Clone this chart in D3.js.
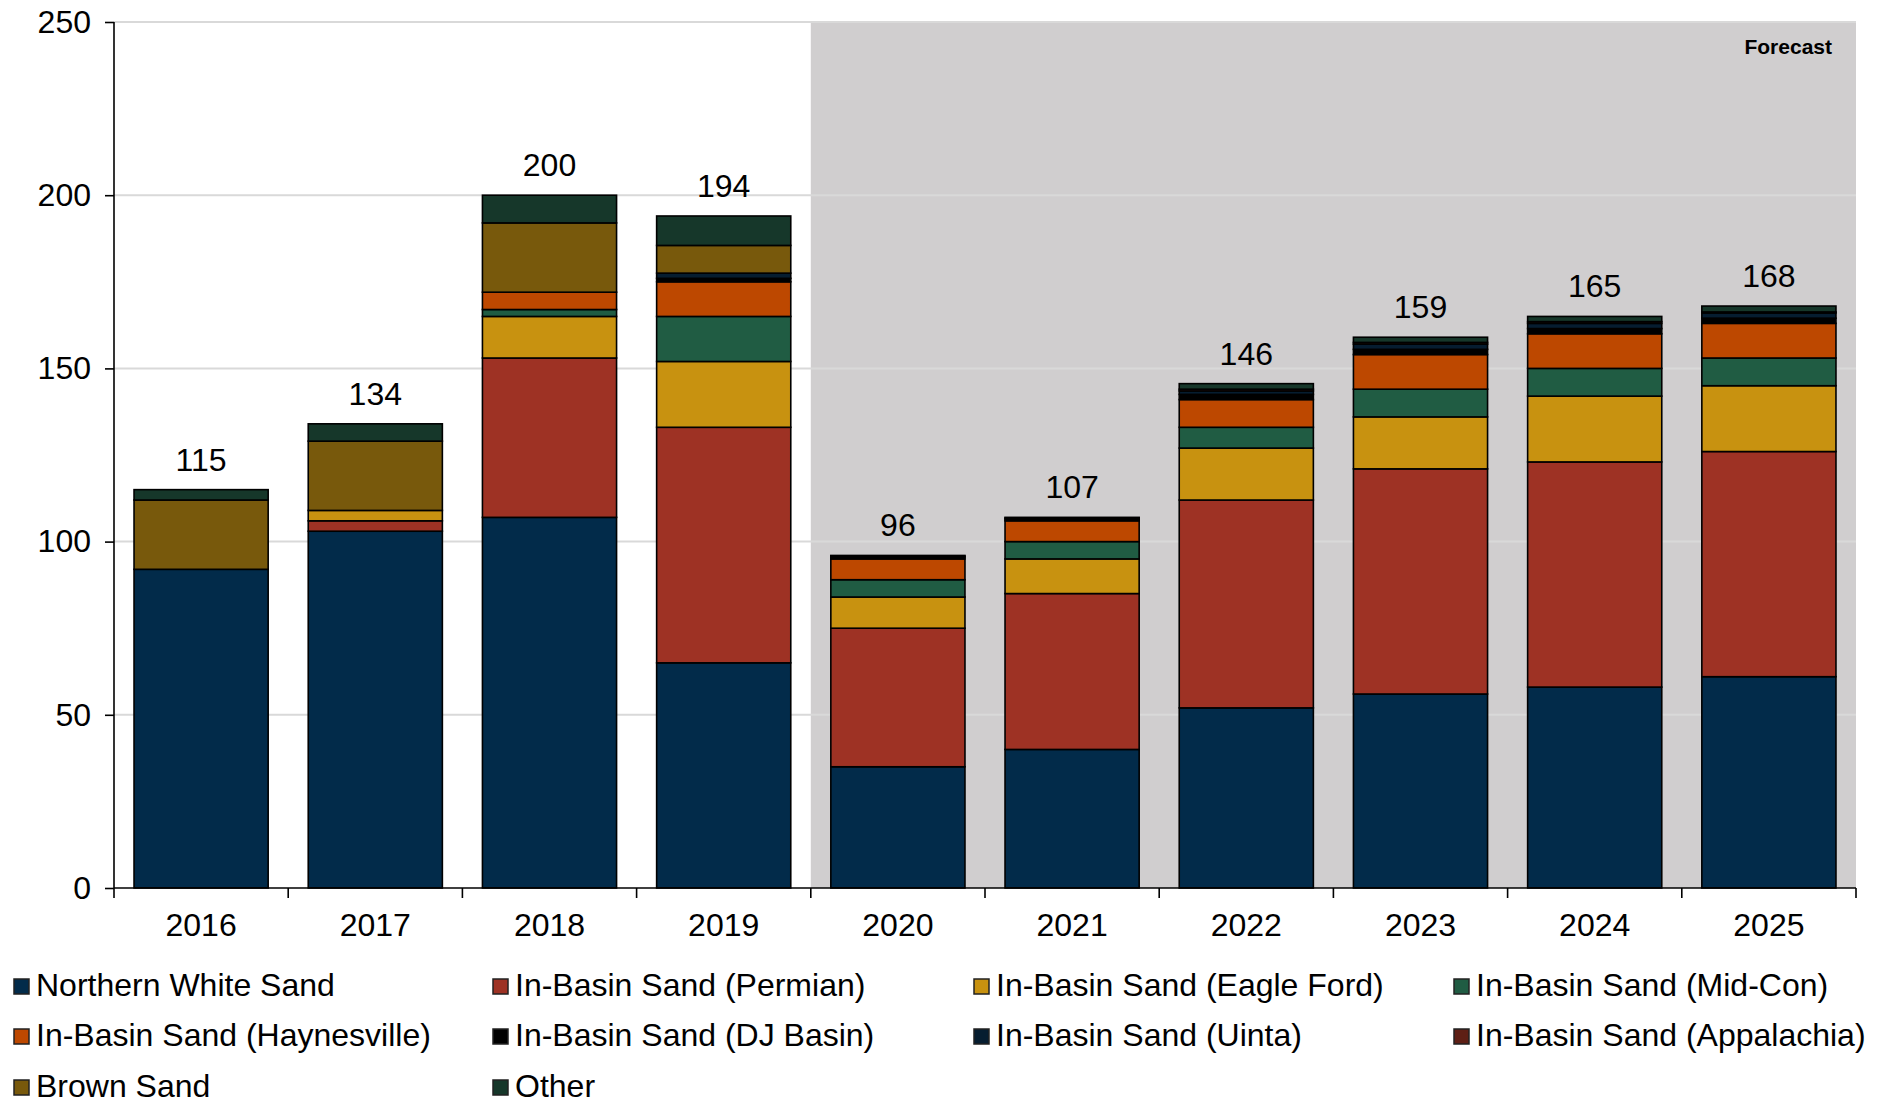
<!DOCTYPE html>
<html>
<head>
<meta charset="utf-8">
<title>Frac sand demand</title>
<script src="https://cdn.jsdelivr.net/npm/d3@7"></script>
<style>
  body { margin: 0; background: #fff; }
  text { font-family: "Liberation Sans", Arial, sans-serif; }
</style>
</head>
<body>
<script>
// data (million tons)
var years = ["2016","2017","2018","2019","2020","2021","2022","2023","2024","2025"];
var forecastFrom = "2020";

var seriesNames = ["Northern White Sand","In-Basin Sand (Permian)","In-Basin Sand (Eagle Ford)",
  "In-Basin Sand (Mid-Con)","In-Basin Sand (Haynesville)","In-Basin Sand (DJ Basin)",
  "In-Basin Sand (Uinta)","In-Basin Sand (Appalachia)","Brown Sand","Other"];
var seriesColors = ["#022b4a","#9e3224","#c89210","#205c43","#bd4800","#000000",
  "#061d30","#5e1f15","#78590c","#16372a"];

var northernWhite = [92, 103, 107, 65, 35, 40, 52, 56, 58, 61];
var permian       = [0, 3, 46, 68, 40, 45, 60, 65, 65, 65];
var eagleFord     = [0, 3, 12, 19, 9, 10, 15, 15, 19, 19];
var midCon        = [0, 0, 2, 13, 5, 5, 6, 8, 8, 8];
var haynesville   = [0, 0, 5, 10, 6, 6, 8, 10, 10, 10];
var djBasin       = [0, 0, 0, 1, 0.5, 0.5, 1.5, 1.5, 1.5, 1.5];
var uinta         = [0, 0, 0, 1.5, 0.3, 0.3, 1, 1.5, 1.5, 1.5];
var appalachia    = [0, 0, 0, 0, 0, 0, 0.5, 0.5, 0.5, 0.3];
var brownSand     = [20, 20, 20, 8, 0, 0, 0, 0, 0, 0];
var other         = [3, 5, 8, 8.5, 0.2, 0.2, 1.6, 1.5, 1.5, 1.7];

var yTicks = [0, 50, 100, 150, 200, 250];

var allSeries = [northernWhite, permian, eagleFord, midCon, haynesville, djBasin, uinta, appalachia, brownSand, other];

var rows = years.map(function(y, i) {
  var r = { year: y };
  seriesNames.forEach(function(n, j) { r[n] = allSeries[j][i]; });
  return r;
});

var W = 1881, H = 1104;
var margin = { top: 22, right: 25, bottom: 216, left: 114 };
var width = W - margin.left - margin.right,
    height = H - margin.top - margin.bottom;

var svg = d3.select("body").append("svg")
    .attr("width", W).attr("height", H);
var g = svg.append("g")
    .attr("transform", "translate(" + margin.left + "," + margin.top + ")");

var x = d3.scaleBand().domain(years).range([0, width]).paddingInner(0.23).paddingOuter(0.115);
var y = d3.scaleLinear().domain([0, 250]).range([height, 0]);
var step = x.step();

// forecast shading
var fx = x(forecastFrom) - (step - x.bandwidth()) / 2;
g.append("rect")
    .attr("x", fx).attr("y", 0)
    .attr("width", width - fx).attr("height", height)
    .attr("fill", "#d0cecf");

g.append("text")
    .attr("x", width - 24).attr("y", 32)
    .attr("text-anchor", "end")
    .style("font-size", "21px").style("font-weight", "bold")
    .text("Forecast");

// gridlines
g.selectAll(".grid").data(yTicks.slice(1)).enter().append("line")
    .attr("x1", 0).attr("x2", width)
    .attr("y1", function(d) { return y(d); }).attr("y2", function(d) { return y(d); })
    .attr("stroke", "#d9d9d9").attr("stroke-width", 2);

var stack = d3.stack().keys(seriesNames);
var layers = stack(rows);

g.selectAll(".layer").data(layers).enter().append("g")
    .attr("fill", function(d, i) { return seriesColors[i]; })
  .selectAll("rect").data(function(d) { return d; }).enter()
    .filter(function(d) { return d[1] - d[0] > 0; })
    .append("rect")
    .attr("x", function(d) { return x(d.data.year); })
    .attr("y", function(d) { return y(d[1]); })
    .attr("width", x.bandwidth())
    .attr("height", function(d) { return y(d[0]) - y(d[1]); })
    .attr("stroke", "#000").attr("stroke-width", 1.6);

// totals
g.selectAll(".total").data(rows).enter().append("text")
    .attr("x", function(d) { return x(d.year) + x.bandwidth() / 2; })
    .attr("y", function(d) { return y(d3.sum(seriesNames, function(n) { return d[n]; })) - 19; })
    .attr("text-anchor", "middle")
    .style("font-size", "32px")
    .text(function(d) { return Math.round(d3.sum(seriesNames, function(n) { return d[n]; })); });

// y axis
var yAxis = g.append("g")
    .call(d3.axisLeft(y).tickValues(yTicks).tickSize(9).tickPadding(14));
yAxis.selectAll("text").style("font-size", "32px").attr("fill", "#000");
yAxis.select(".domain").attr("stroke", "#000").attr("stroke-width", 1.6).attr("d", "M0,0V" + height);
yAxis.selectAll(".tick line").attr("stroke", "#000").attr("stroke-width", 1.6);

// x axis: ticks at category boundaries
var xg = g.append("g").attr("transform", "translate(0," + height + ")");
xg.append("line").attr("x1", 0).attr("x2", width).attr("stroke", "#000").attr("stroke-width", 1.6);
xg.selectAll(".bt").data(d3.range(years.length + 1)).enter().append("line")
    .attr("x1", function(i) { return i * step; }).attr("x2", function(i) { return i * step; })
    .attr("y1", 0).attr("y2", 10)
    .attr("stroke", "#000").attr("stroke-width", 1.6);
xg.selectAll(".yl").data(years).enter().append("text")
    .attr("x", function(d) { return x(d) + x.bandwidth() / 2; })
    .attr("y", 48)
    .attr("text-anchor", "middle")
    .style("font-size", "32px")
    .text(function(d) { return d; });

// legend, four columns
var colX = [14, 493, 974, 1454], rowY = [996, 1046, 1097];
var leg = svg.selectAll(".leg").data(seriesNames).enter().append("g")
    .attr("transform", function(d, i) { return "translate(" + colX[i % 4] + "," + rowY[Math.floor(i / 4)] + ")"; });
leg.append("rect")
    .attr("x", 0).attr("y", -17).attr("width", 15).attr("height", 15)
    .attr("fill", function(d, i) { return seriesColors[i]; })
    .attr("stroke", "#222").attr("stroke-width", 1.5);
leg.append("text")
    .attr("x", 22).attr("y", 0)
    .style("font-size", "32px")
    .text(function(d) { return d; });
</script>
</body>
</html>
